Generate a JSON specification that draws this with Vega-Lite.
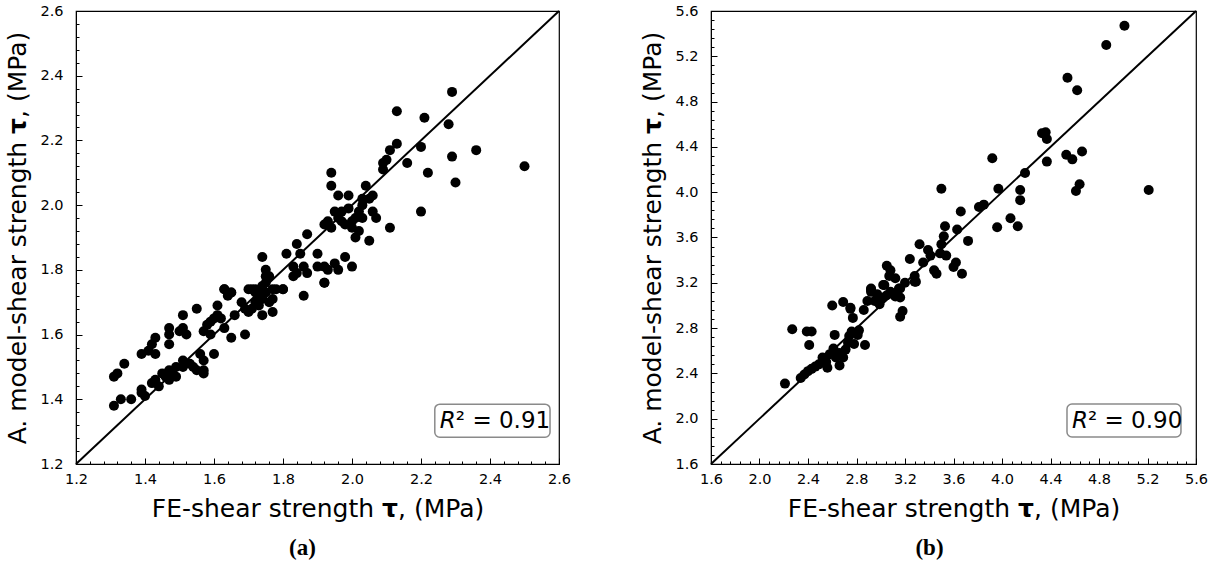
{
  "$schema": "https://vega.github.io/schema/vega-lite/v6.json",
  "background": "white",
  "padding": {"left": 5, "top": 2, "right": 5, "bottom": 0},
  "spacing": 68,
  "config": {
    "font": "DejaVu Sans",
    "view": {"stroke": "black", "strokeWidth": 1.2},
    "axis": {
      "labelFont": "DejaVu Sans",
      "titleFont": "DejaVu Sans",
      "labelFontSize": 14.5,
      "titleFontSize": 25,
      "titleFontWeight": "normal",
      "labelColor": "black",
      "titleColor": "black",
      "tickColor": "black",
      "domainColor": "black",
      "grid": false,
      "labelFlush": false,
      "labelOverlap": false,
      "labelBound": false
    }
  },
  "datasets": {
    "a": [
      {"x": 2.50, "y": 2.12}, {"x": 2.29, "y": 2.35}, {"x": 2.13, "y": 2.29}, {"x": 2.21, "y": 2.27},
      {"x": 2.28, "y": 2.25}, {"x": 2.36, "y": 2.17}, {"x": 2.20, "y": 2.18}, {"x": 2.29, "y": 2.15},
      {"x": 2.16, "y": 2.13}, {"x": 2.22, "y": 2.10}, {"x": 2.30, "y": 2.07}, {"x": 2.20, "y": 1.98},
      {"x": 2.13, "y": 2.19}, {"x": 2.11, "y": 2.17}, {"x": 2.10, "y": 2.14}, {"x": 2.09, "y": 2.13},
      {"x": 2.09, "y": 2.11}, {"x": 1.94, "y": 2.10}, {"x": 1.94, "y": 2.06}, {"x": 1.96, "y": 2.03},
      {"x": 1.99, "y": 2.03}, {"x": 2.04, "y": 2.06}, {"x": 2.03, "y": 2.02}, {"x": 2.06, "y": 2.03},
      {"x": 2.05, "y": 2.02}, {"x": 1.95, "y": 1.98}, {"x": 1.97, "y": 1.98}, {"x": 2.02, "y": 1.98},
      {"x": 2.06, "y": 1.98}, {"x": 2.07, "y": 1.96}, {"x": 1.92, "y": 1.94}, {"x": 1.94, "y": 1.93},
      {"x": 1.97, "y": 1.95}, {"x": 1.98, "y": 1.94}, {"x": 2.00, "y": 1.93}, {"x": 2.01, "y": 1.96},
      {"x": 2.03, "y": 1.96}, {"x": 2.01, "y": 1.90}, {"x": 2.02, "y": 1.92}, {"x": 2.05, "y": 1.89},
      {"x": 2.11, "y": 1.93}, {"x": 1.87, "y": 1.91}, {"x": 1.84, "y": 1.88}, {"x": 1.85, "y": 1.85},
      {"x": 1.90, "y": 1.85}, {"x": 1.81, "y": 1.85}, {"x": 1.74, "y": 1.84}, {"x": 1.75, "y": 1.80},
      {"x": 1.75, "y": 1.78}, {"x": 1.83, "y": 1.81}, {"x": 1.84, "y": 1.79}, {"x": 1.86, "y": 1.81},
      {"x": 1.87, "y": 1.79}, {"x": 1.90, "y": 1.81}, {"x": 1.92, "y": 1.81}, {"x": 1.93, "y": 1.80},
      {"x": 1.95, "y": 1.82}, {"x": 1.96, "y": 1.80}, {"x": 1.98, "y": 1.84}, {"x": 2.00, "y": 1.81},
      {"x": 1.92, "y": 1.76}, {"x": 1.83, "y": 1.78}, {"x": 1.80, "y": 1.74}, {"x": 1.63, "y": 1.74},
      {"x": 1.65, "y": 1.73}, {"x": 1.70, "y": 1.74}, {"x": 1.72, "y": 1.74}, {"x": 1.74, "y": 1.75},
      {"x": 1.77, "y": 1.74}, {"x": 1.96, "y": 1.96}, {"x": 1.99, "y": 1.99}, {"x": 2.03, "y": 2.00},
      {"x": 1.93, "y": 1.95}, {"x": 2.00, "y": 1.95},
      {"x": 1.31, "y": 1.38}, {"x": 1.31, "y": 1.47}, {"x": 1.32, "y": 1.48}, {"x": 1.34, "y": 1.51},
      {"x": 1.33, "y": 1.40}, {"x": 1.36, "y": 1.40}, {"x": 1.39, "y": 1.42}, {"x": 1.39, "y": 1.43},
      {"x": 1.39, "y": 1.54}, {"x": 1.41, "y": 1.55}, {"x": 1.42, "y": 1.57}, {"x": 1.43, "y": 1.59},
      {"x": 1.43, "y": 1.54}, {"x": 1.47, "y": 1.62}, {"x": 1.47, "y": 1.60}, {"x": 1.47, "y": 1.57},
      {"x": 1.50, "y": 1.61}, {"x": 1.51, "y": 1.62}, {"x": 1.52, "y": 1.60}, {"x": 1.51, "y": 1.66},
      {"x": 1.55, "y": 1.68}, {"x": 1.42, "y": 1.45}, {"x": 1.43, "y": 1.46}, {"x": 1.46, "y": 1.47},
      {"x": 1.47, "y": 1.49}, {"x": 1.49, "y": 1.50}, {"x": 1.51, "y": 1.50}, {"x": 1.51, "y": 1.52},
      {"x": 1.49, "y": 1.47}, {"x": 1.47, "y": 1.46}, {"x": 1.53, "y": 1.51}, {"x": 1.48, "y": 1.48},
      {"x": 1.56, "y": 1.54}, {"x": 1.57, "y": 1.52}, {"x": 1.57, "y": 1.49}, {"x": 1.55, "y": 1.49},
      {"x": 1.57, "y": 1.48}, {"x": 1.60, "y": 1.54}, {"x": 1.57, "y": 1.61}, {"x": 1.58, "y": 1.63},
      {"x": 1.59, "y": 1.64}, {"x": 1.60, "y": 1.65}, {"x": 1.61, "y": 1.66}, {"x": 1.63, "y": 1.62},
      {"x": 1.65, "y": 1.59}, {"x": 1.69, "y": 1.60}, {"x": 1.61, "y": 1.69}, {"x": 1.63, "y": 1.74},
      {"x": 1.64, "y": 1.72}, {"x": 1.65, "y": 1.73}, {"x": 1.66, "y": 1.66}, {"x": 1.70, "y": 1.67},
      {"x": 1.71, "y": 1.68}, {"x": 1.72, "y": 1.70}, {"x": 1.73, "y": 1.72}, {"x": 1.74, "y": 1.71},
      {"x": 1.75, "y": 1.73}, {"x": 1.77, "y": 1.71}, {"x": 1.74, "y": 1.66}, {"x": 1.77, "y": 1.67},
      {"x": 1.78, "y": 1.74}, {"x": 1.80, "y": 1.74}, {"x": 1.86, "y": 1.72}, {"x": 1.92, "y": 1.76},
      {"x": 1.71, "y": 1.74}, {"x": 1.72, "y": 1.73}, {"x": 1.44, "y": 1.44}, {"x": 1.40, "y": 1.41},
      {"x": 1.45, "y": 1.48}, {"x": 1.54, "y": 1.50}, {"x": 1.59, "y": 1.60}, {"x": 1.62, "y": 1.65},
      {"x": 1.68, "y": 1.70}, {"x": 1.69, "y": 1.68}, {"x": 1.73, "y": 1.69}, {"x": 1.76, "y": 1.70},
      {"x": 1.75, "y": 1.76}, {"x": 1.76, "y": 1.78}
    ],
    "b": [
      {"x": 5.01, "y": 5.47}, {"x": 4.86, "y": 5.30}, {"x": 4.54, "y": 5.01}, {"x": 4.62, "y": 4.90},
      {"x": 5.21, "y": 4.02}, {"x": 4.33, "y": 4.52}, {"x": 4.36, "y": 4.53}, {"x": 4.37, "y": 4.47},
      {"x": 4.37, "y": 4.27}, {"x": 4.53, "y": 4.33}, {"x": 4.58, "y": 4.29}, {"x": 4.66, "y": 4.36},
      {"x": 4.64, "y": 4.07}, {"x": 4.61, "y": 4.01}, {"x": 4.19, "y": 4.17}, {"x": 4.15, "y": 4.02},
      {"x": 4.15, "y": 3.93}, {"x": 4.07, "y": 3.77}, {"x": 4.13, "y": 3.70}, {"x": 3.96, "y": 3.69},
      {"x": 3.97, "y": 4.03}, {"x": 3.92, "y": 4.30}, {"x": 3.85, "y": 3.89}, {"x": 3.81, "y": 3.87},
      {"x": 3.66, "y": 3.83}, {"x": 3.50, "y": 4.03}, {"x": 3.53, "y": 3.70}, {"x": 3.52, "y": 3.61},
      {"x": 3.50, "y": 3.54}, {"x": 3.63, "y": 3.67}, {"x": 3.72, "y": 3.57}, {"x": 3.32, "y": 3.54},
      {"x": 3.39, "y": 3.49}, {"x": 3.41, "y": 3.44}, {"x": 3.49, "y": 3.46}, {"x": 3.54, "y": 3.44},
      {"x": 3.35, "y": 3.38}, {"x": 3.24, "y": 3.41}, {"x": 3.44, "y": 3.31}, {"x": 3.46, "y": 3.28},
      {"x": 3.62, "y": 3.38}, {"x": 3.60, "y": 3.34}, {"x": 3.67, "y": 3.28}, {"x": 3.28, "y": 3.26},
      {"x": 3.29, "y": 3.21}, {"x": 3.05, "y": 3.35}, {"x": 3.08, "y": 3.31}, {"x": 3.07, "y": 3.26},
      {"x": 3.12, "y": 3.24}, {"x": 3.03, "y": 3.18}, {"x": 3.16, "y": 3.15}, {"x": 2.92, "y": 3.14},
      {"x": 2.21, "y": 2.31}, {"x": 2.27, "y": 2.79}, {"x": 2.39, "y": 2.77}, {"x": 2.43, "y": 2.77},
      {"x": 2.41, "y": 2.65}, {"x": 2.34, "y": 2.36}, {"x": 2.37, "y": 2.39}, {"x": 2.40, "y": 2.42},
      {"x": 2.43, "y": 2.44}, {"x": 2.46, "y": 2.46}, {"x": 2.49, "y": 2.48}, {"x": 2.52, "y": 2.54},
      {"x": 2.55, "y": 2.50}, {"x": 2.56, "y": 2.45}, {"x": 2.58, "y": 2.57}, {"x": 2.61, "y": 2.62},
      {"x": 2.63, "y": 2.54}, {"x": 2.66, "y": 2.58}, {"x": 2.66, "y": 2.47}, {"x": 2.69, "y": 2.54},
      {"x": 2.71, "y": 2.61}, {"x": 2.73, "y": 2.67}, {"x": 2.74, "y": 2.73}, {"x": 2.76, "y": 2.77},
      {"x": 2.81, "y": 2.74}, {"x": 2.82, "y": 2.78}, {"x": 2.77, "y": 2.89}, {"x": 2.75, "y": 2.97},
      {"x": 2.78, "y": 2.66}, {"x": 2.87, "y": 2.65}, {"x": 2.62, "y": 2.74}, {"x": 2.60, "y": 3.00},
      {"x": 2.69, "y": 3.03}, {"x": 2.75, "y": 2.98}, {"x": 2.86, "y": 2.96}, {"x": 2.89, "y": 3.04},
      {"x": 2.92, "y": 3.12}, {"x": 2.95, "y": 3.04}, {"x": 2.99, "y": 3.01}, {"x": 3.02, "y": 3.07},
      {"x": 3.05, "y": 3.09}, {"x": 3.08, "y": 3.12}, {"x": 3.12, "y": 3.08}, {"x": 3.15, "y": 3.15},
      {"x": 3.16, "y": 3.07}, {"x": 3.18, "y": 2.95}, {"x": 3.16, "y": 2.90}, {"x": 3.02, "y": 3.18},
      {"x": 3.20, "y": 3.20}, {"x": 3.28, "y": 3.21}, {"x": 2.92, "y": 3.15}, {"x": 2.97, "y": 3.10},
      {"x": 3.00, "y": 3.05}
    ],
    "lineA": [{"x": 1.2, "y": 1.2}, {"x": 2.6, "y": 2.6}],
    "lineB": [{"x": 1.6, "y": 1.6}, {"x": 5.6, "y": 5.6}],
    "boxA": [{"x1": 2.24, "x2": 2.574, "y1": 1.283, "y2": 1.385, "xm": 2.301, "ym": 1.334}],
    "boxB": [{"x1": 4.536, "x2": 5.476, "y1": 1.838, "y2": 2.130, "xm": 4.709, "ym": 1.984}]
  },
  "hconcat": [
    {
      "width": 483,
      "height": 453,
      "title": {"text": "(a)", "orient": "bottom", "anchor": "middle", "dx": -15, "font": "Liberation Serif", "fontWeight": "bold", "fontSize": 23, "color": "black", "offset": 15},
      "resolve": {"axis": {"x": "independent", "y": "independent"}},
      "layer": [
        {
          "data": {"name": "lineA"},
          "mark": {"type": "line", "color": "black", "strokeWidth": 2},
          "encoding": {
            "x": {"field": "x", "type": "quantitative", "scale": {"domain": [1.2, 2.6], "nice": false, "zero": false},
              "axis": {"orient": "bottom", "values": [1.24,1.28,1.32,1.36,1.44,1.48,1.52,1.56,1.64,1.68,1.72,1.76,1.84,1.88,1.92,1.96,2.04,2.08,2.12,2.16,2.24,2.28,2.32,2.36,2.44,2.48,2.52,2.56], "labels": false, "domain": false, "tickSize": -3, "title": null}},
            "y": {"field": "y", "type": "quantitative", "scale": {"domain": [1.2, 2.6], "nice": false, "zero": false},
              "axis": {"orient": "left", "values": [1.24,1.28,1.32,1.36,1.44,1.48,1.52,1.56,1.64,1.68,1.72,1.76,1.84,1.88,1.92,1.96,2.04,2.08,2.12,2.16,2.24,2.28,2.32,2.36,2.44,2.48,2.52,2.56], "labels": false, "domain": false, "tickSize": -3, "title": null}}
          }
        },
        {
          "data": {"name": "a"},
          "mark": {"type": "circle", "size": 100, "color": "black", "opacity": 1},
          "encoding": {
            "x": {"field": "x", "type": "quantitative", "scale": {"domain": [1.2, 2.6], "nice": false, "zero": false},
              "axis": {"orient": "bottom", "values": [1.2,1.4,1.6,1.8,2.0,2.2,2.4,2.6], "format": ".1f", "tickSize": -6, "labelPadding": 14, "title": "FE-shear strength \uD835\uDF83, (MPa)", "titlePadding": 11}},
            "y": {"field": "y", "type": "quantitative", "scale": {"domain": [1.2, 2.6], "nice": false, "zero": false},
              "axis": {"orient": "left", "values": [1.2,1.4,1.6,1.8,2.0,2.2,2.4,2.6], "format": ".1f", "tickSize": -6, "labelPadding": 19, "title": "A. model-shear strength \uD835\uDF83, (MPa)", "titlePadding": 9}}
          }
        },
        {
          "data": {"name": "boxA"},
          "mark": {"type": "rect", "fill": "white", "stroke": "#8a8a8a", "strokeWidth": 1.5, "cornerRadius": 5},
          "encoding": {
            "x": {"field": "x1", "type": "quantitative", "axis": null},
            "x2": {"field": "x2"},
            "y": {"field": "y1", "type": "quantitative", "axis": null},
            "y2": {"field": "y2"}
          }
        },
        {
          "data": {"name": "boxA"},
          "mark": {"type": "text", "text": "R", "font": "DejaVu Sans", "fontStyle": "italic", "fontSize": 23, "align": "right", "baseline": "middle", "color": "black"},
          "encoding": {
            "x": {"field": "xm", "type": "quantitative", "axis": null},
            "y": {"field": "ym", "type": "quantitative", "axis": null}
          }
        },
        {
          "data": {"name": "boxA"},
          "mark": {"type": "text", "text": "² = 0.91", "font": "DejaVu Sans", "fontSize": 23, "align": "left", "baseline": "middle", "color": "black"},
          "encoding": {
            "x": {"field": "xm", "type": "quantitative", "axis": null},
            "y": {"field": "ym", "type": "quantitative", "axis": null}
          }
        }
      ]
    },
    {
      "width": 485,
      "height": 453,
      "title": {"text": "(b)", "orient": "bottom", "anchor": "middle", "dx": -24, "font": "Liberation Serif", "fontWeight": "bold", "fontSize": 23, "color": "black", "offset": 15},
      "resolve": {"axis": {"x": "independent", "y": "independent"}},
      "layer": [
        {
          "data": {"name": "lineB"},
          "mark": {"type": "line", "color": "black", "strokeWidth": 2},
          "encoding": {
            "x": {"field": "x", "type": "quantitative", "scale": {"domain": [1.6, 5.6], "nice": false, "zero": false},
              "axis": {"orient": "bottom", "values": [1.68,1.76,1.84,1.92,2.08,2.16,2.24,2.32,2.48,2.56,2.64,2.72,2.88,2.96,3.04,3.12,3.28,3.36,3.44,3.52,3.68,3.76,3.84,3.92,4.08,4.16,4.24,4.32,4.48,4.56,4.64,4.72,4.88,4.96,5.04,5.12,5.28,5.36,5.44,5.52], "labels": false, "domain": false, "tickSize": -3, "title": null}},
            "y": {"field": "y", "type": "quantitative", "scale": {"domain": [1.6, 5.6], "nice": false, "zero": false},
              "axis": {"orient": "left", "values": [1.68,1.76,1.84,1.92,2.08,2.16,2.24,2.32,2.48,2.56,2.64,2.72,2.88,2.96,3.04,3.12,3.28,3.36,3.44,3.52,3.68,3.76,3.84,3.92,4.08,4.16,4.24,4.32,4.48,4.56,4.64,4.72,4.88,4.96,5.04,5.12,5.28,5.36,5.44,5.52], "labels": false, "domain": false, "tickSize": -3, "title": null}}
          }
        },
        {
          "data": {"name": "b"},
          "mark": {"type": "circle", "size": 100, "color": "black", "opacity": 1},
          "encoding": {
            "x": {"field": "x", "type": "quantitative", "scale": {"domain": [1.6, 5.6], "nice": false, "zero": false},
              "axis": {"orient": "bottom", "values": [1.6,2.0,2.4,2.8,3.2,3.6,4.0,4.4,4.8,5.2,5.6], "format": ".1f", "tickSize": -6, "labelPadding": 14, "title": "FE-shear strength \uD835\uDF83, (MPa)", "titlePadding": 11}},
            "y": {"field": "y", "type": "quantitative", "scale": {"domain": [1.6, 5.6], "nice": false, "zero": false},
              "axis": {"orient": "left", "values": [1.6,2.0,2.4,2.8,3.2,3.6,4.0,4.4,4.8,5.2,5.6], "format": ".1f", "tickSize": -6, "labelPadding": 19, "title": "A. model-shear strength \uD835\uDF83, (MPa)", "titlePadding": 9}}
          }
        },
        {
          "data": {"name": "boxB"},
          "mark": {"type": "rect", "fill": "white", "stroke": "#8a8a8a", "strokeWidth": 1.5, "cornerRadius": 5},
          "encoding": {
            "x": {"field": "x1", "type": "quantitative", "axis": null},
            "x2": {"field": "x2"},
            "y": {"field": "y1", "type": "quantitative", "axis": null},
            "y2": {"field": "y2"}
          }
        },
        {
          "data": {"name": "boxB"},
          "mark": {"type": "text", "text": "R", "font": "DejaVu Sans", "fontStyle": "italic", "fontSize": 23, "align": "right", "baseline": "middle", "color": "black"},
          "encoding": {
            "x": {"field": "xm", "type": "quantitative", "axis": null},
            "y": {"field": "ym", "type": "quantitative", "axis": null}
          }
        },
        {
          "data": {"name": "boxB"},
          "mark": {"type": "text", "text": "² = 0.90", "font": "DejaVu Sans", "fontSize": 23, "align": "left", "baseline": "middle", "color": "black"},
          "encoding": {
            "x": {"field": "xm", "type": "quantitative", "axis": null},
            "y": {"field": "ym", "type": "quantitative", "axis": null}
          }
        }
      ]
    }
  ]
}
